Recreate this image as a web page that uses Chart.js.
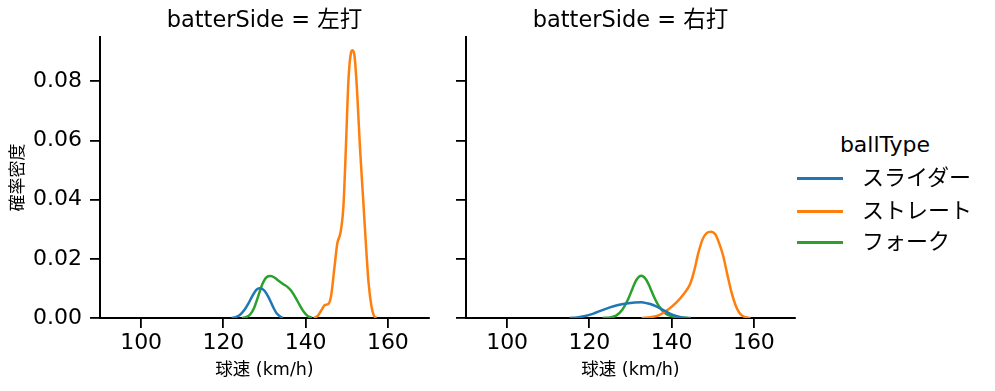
<!DOCTYPE html>
<html>
<head>
<meta charset="utf-8">
<script src="https://cdn.jsdelivr.net/npm/chart.js@4.4.0/dist/chart.umd.min.js"></script>
<style>
  body { margin: 0; background: #fff; }
  #wrap { position: relative; width: 995px; height: 391px; }
  canvas { position: absolute; top: 0; }
  #c1 { left: 0; }
  #c2 { left: 440px; }
  #legend { position: absolute; left: 0; top: 0; font-family: 'DejaVu Sans', 'Noto Sans CJK JP', sans-serif; color: #000; }
  #legend div { position: absolute; white-space: nowrap; }
  #legend .title { font-size: 22px; left: 835px; width: 100px; text-align: center; top: 131px; line-height: 28px; }
  #legend .sw { left: 797px; width: 46px; height: 3px; }
  #legend .txt { left: 862px; font-size: 22px; line-height: 28px; }
</style>
</head>
<body>
<div id="wrap">
  <canvas id="c1" width="440" height="391"></canvas>
  <canvas id="c2" width="366" height="391"></canvas>
  <div id="legend"></div>
</div>
<script>
// Panels and ball types
const panels = ['左打', '右打'];
const ballTypes = ['スライダー', 'ストレート', 'フォーク'];
const colors = ['#1f77b4', '#ff7f0e', '#2ca02c'];

const xTicks = [100, 120, 140, 160];
const yTicks = [0, 0.02, 0.04, 0.06, 0.08];

// 左打 (density curves)
const leftSliderX = [122, 123, 124, 125, 126, 127, 128, 128.8, 129.5, 130, 131, 132, 133, 134, 134.5];
const leftSliderY = [0, 0.0003, 0.0010, 0.0025, 0.0047, 0.0073, 0.0095, 0.0101, 0.0098, 0.0092, 0.0070, 0.0040, 0.0015, 0.0003, 0];
const leftStraightX = [142, 143, 144, 144.7, 145.5, 146.2, 147, 147.7, 148.5, 149.2, 149.8, 150.4, 151, 151.4, 151.9, 152.5, 153.2, 154, 154.7, 155.3, 156, 156.6, 157.2];
const leftStraightY = [0, 0.0008, 0.0030, 0.0044, 0.0047, 0.0075, 0.0170, 0.0252, 0.0290, 0.0380, 0.058, 0.080, 0.0895, 0.0905, 0.0885, 0.077, 0.058, 0.040, 0.024, 0.012, 0.004, 0.0008, 0];
const leftForkX = [124.5, 125.5, 126.5, 127.5, 128.5, 129.5, 130.5, 131.5, 132.5, 133.5, 134.5, 135.5, 136.5, 137.5, 138.5, 139.5, 140.5, 141.5];
const leftForkY = [0, 0.0003, 0.0012, 0.0035, 0.0075, 0.0115, 0.0138, 0.0142, 0.0136, 0.0125, 0.0115, 0.0106, 0.0092, 0.0070, 0.0045, 0.0022, 0.0007, 0.0001];

// 右打
const rightSliderX = [115.2, 117, 119, 121, 123, 125, 127, 129, 131, 132.6, 134, 135.5, 137, 138.5, 140, 141.5, 143, 144.7];
const rightSliderY = [0, 0.0002, 0.0007, 0.0015, 0.0026, 0.0036, 0.0044, 0.0049, 0.0052, 0.0053, 0.0050, 0.0044, 0.0034, 0.0023, 0.0012, 0.0005, 0.0001, 0];
const rightStraightX = [132.7, 135, 137, 139, 141, 143, 144.5, 145.5, 146.5, 147.5, 148.5, 149.6, 150.6, 151.5, 152.5, 153.5, 154.5, 155.5, 156.5, 157.5, 159.2];
const rightStraightY = [0, 0.0003, 0.0010, 0.0027, 0.0050, 0.0082, 0.0115, 0.0160, 0.0220, 0.0265, 0.0287, 0.0292, 0.0283, 0.0255, 0.0212, 0.0150, 0.0090, 0.0045, 0.0017, 0.0005, 0];
const rightForkX = [123.2, 125, 126.5, 128, 129.5, 130.5, 131.5, 132.6, 133.7, 134.7, 135.7, 137, 138.5, 140, 142, 144];
const rightForkY = [0, 0.0002, 0.0008, 0.0028, 0.0066, 0.0100, 0.0130, 0.0143, 0.0132, 0.0105, 0.0072, 0.0038, 0.0015, 0.0006, 0.0002, 0];

const FONT = "'DejaVu Sans', 'Noto Sans CJK JP', sans-serif";

function toPoints(xs, ys) {
    return xs.map((x, i) => ({ x: x, y: ys[i] }));
}

function makeDatasets(series) {
    return series.map((s, i) => ({
        label: ballTypes[i],
        data: toPoints(s[0], s[1]),
        borderColor: colors[i],
        borderWidth: 2.5,
        pointRadius: 0,
        cubicInterpolationMode: 'monotone',
        fill: false
    }));
}

// Panel title centred over the plot area, like the facet titles
const panelTitle = {
    id: 'panelTitle',
    afterDraw(chart, args, opts) {
        const { ctx, chartArea } = chart;
        ctx.save();
        ctx.fillStyle = '#000';
        ctx.font = '22.5px ' + FONT;
        ctx.textAlign = 'center';
        ctx.textBaseline = 'middle';
        ctx.fillText(opts.text, (chartArea.left + chartArea.right) / 2, 21);
        ctx.restore();
    }
};

function createPanel(elementId, title, series, showYLabels) {
    const ctx = document.getElementById(elementId).getContext('2d');
    return new Chart(ctx, {
        type: 'line',
        data: { datasets: makeDatasets(series) },
        plugins: [panelTitle],
        options: {
            responsive: false,
            animation: false,
            layout: { padding: { left: 0, right: 11, top: 37, bottom: 0 } },
            plugins: {
                legend: { display: false },
                tooltip: { enabled: false },
                panelTitle: { text: 'batterSide = ' + title }
            },
            scales: {
                x: {
                    type: 'linear',
                    min: 90,
                    max: 170,
                    afterBuildTicks: (scale) => { scale.ticks = xTicks.map(v => ({ value: v })); },
                    afterFit: (scale) => { scale.height = 73; },
                    grid: { display: true, drawOnChartArea: false, drawTicks: true, tickLength: 10, color: '#000', lineWidth: 1.8 },
                    border: { display: true, color: '#000', width: 2 },
                    ticks: { color: '#000', font: { family: FONT, size: 22 }, padding: 2 },
                    title: { display: true, text: '球速 (km/h)', color: '#000', font: { family: FONT, size: 17.5 }, padding: { top: 0, bottom: 10 } }
                },
                y: {
                    min: 0,
                    max: 0.095,
                    afterBuildTicks: (scale) => { scale.ticks = yTicks.map(v => ({ value: v })); },
                    afterFit: (scale) => { scale.width = showYLabels ? 100 : 26; },
                    grid: { display: true, drawOnChartArea: false, drawTicks: true, tickLength: 10, color: '#000', lineWidth: 1.8 },
                    border: { display: true, color: '#000', width: 2 },
                    ticks: {
                        display: showYLabels,
                        color: '#000',
                        font: { family: FONT, size: 22 },
                        padding: 8,
                        callback: (v) => v.toFixed(2)
                    },
                    title: { display: showYLabels, text: '確率密度', color: '#000', font: { family: FONT, size: 17 }, padding: { top: 8, bottom: 0 } }
                }
            }
        }
    });
}

createPanel('c1', panels[0], [[leftSliderX, leftSliderY], [leftStraightX, leftStraightY], [leftForkX, leftForkY]], true);
createPanel('c2', panels[1], [[rightSliderX, rightSliderY], [rightStraightX, rightStraightY], [rightForkX, rightForkY]], false);

// Legend
const legendRows = [178, 211, 242];
const legend = document.getElementById('legend');
let html = '<div class="title">ballType</div>';
ballTypes.forEach((name, i) => {
    html += '<div class="sw" style="top:' + (legendRows[i] - 1.5) + 'px;background:' + colors[i] + '"></div>';
    html += '<div class="txt" style="top:' + (legendRows[i] - 14) + 'px">' + name + '</div>';
});
legend.innerHTML = html;
</script>
</body>
</html>
